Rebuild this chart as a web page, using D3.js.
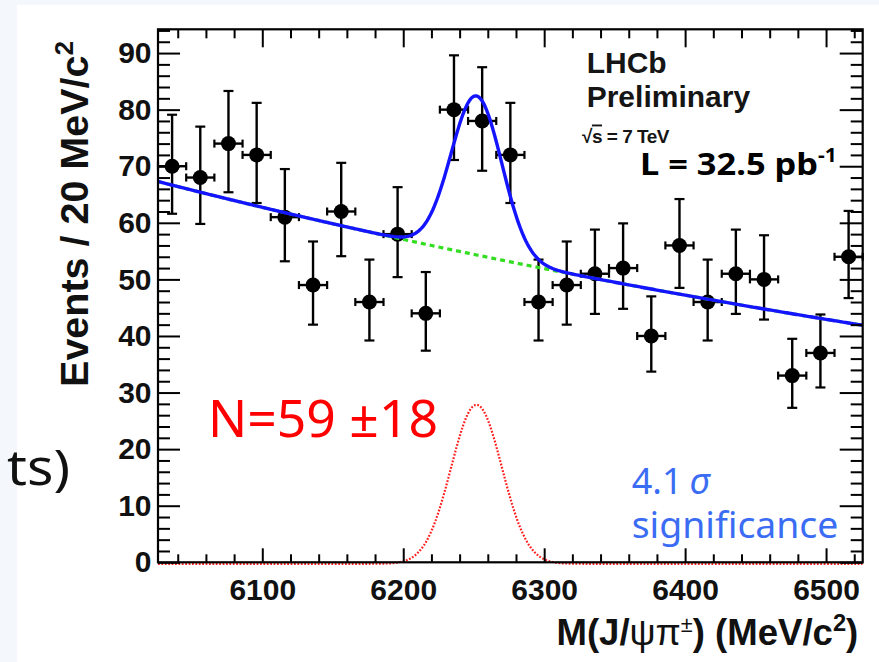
<!DOCTYPE html>
<html>
<head>
<meta charset="utf-8">
<script src="https://cdn.jsdelivr.net/npm/d3@7"></script>
<style>
html,body{margin:0;padding:0;background:#f4f8fc;}
svg{display:block;}
</style>
</head>
<body>
<svg id="chart" width="879" height="662"></svg>
<script>
// ---------------- data ----------------
const massCenters = [6036, 6056, 6076, 6096, 6116, 6136, 6156, 6176, 6196, 6216, 6236, 6256, 6276,
                     6296, 6316, 6336, 6356, 6376, 6396, 6416, 6436, 6456, 6476, 6496, 6516];
const counts      = [70, 68, 74, 72, 61, 49, 62, 46, 58, 44, 80, 78, 72,
                     46, 49, 51, 52, 40, 56, 46, 51, 50, 33, 37, 54];
const errLo       = [8.4, 8.2, 8.6, 8.5, 7.8, 7.0, 7.9, 6.8, 7.6, 6.6, 8.9, 8.8, 8.5,
                     6.8, 7.0, 7.1, 7.2, 6.3, 7.5, 6.8, 7.1, 7.1, 5.7, 6.1, 7.3];
const errHi       = [9.1, 9.0, 9.3, 9.2, 8.5, 7.7, 8.6, 7.5, 8.3, 7.3, 9.6, 9.5, 9.2,
                     7.5, 7.7, 7.8, 7.9, 7.0, 8.2, 7.5, 7.8, 7.8, 6.5, 6.8, 8.1];
const binHalfWidth = 10;

const xTickLabels = [6100, 6200, 6300, 6400, 6500];
const yTickLabels = [0, 10, 20, 30, 40, 50, 60, 70, 80, 90];
const xMinorTicks = [6040, 6060, 6080, 6120, 6140, 6160, 6180, 6220, 6240, 6260, 6280,
                     6320, 6340, 6360, 6380, 6420, 6440, 6460, 6480, 6520];
const yMinorTicks = [2, 4, 6, 8, 12, 14, 16, 18, 22, 24, 26, 28, 32, 34, 36, 38, 42, 44, 46, 48,
                     52, 54, 56, 58, 62, 64, 66, 68, 72, 74, 76, 78, 82, 84, 86, 88, 92, 94];

// fit model parameters
const fitRange    = [6026, 6526];
const bkgNorm     = 67.3;      // background at 6026 MeV
const bkgSlope    = 0.000948;  // exponential slope per MeV
const sigAmp      = 28.1;
const sigMean     = 6252;
const sigSigma    = 18;

// ---------------- layout ----------------
const svg = d3.select("#chart");
const L = 158, R = 862.7, T = 29.3, B = 562.3;
const x = d3.scaleLinear().domain([6026, 6526]).range([L, R]);
const y = d3.scaleLinear().domain([0, 94.2]).range([B, T]);
const ROOTFONT = "'Liberation Sans', Arial, Helvetica, sans-serif";

// white picture area
svg.append("rect").attr("x", 17).attr("y", 5).attr("width", 862).attr("height", 657).attr("fill", "#ffffff");

function fitWidth(sel, target) {
  const w = sel.node().getBBox().width;
  return target / w;
}

// slide text fragment
const ts = svg.append("text")
  .attr("font-family", "'Noto Sans', sans-serif").attr("font-size", 50).attr("fill", "#111")
  .text("ts)");
ts.attr("transform", `translate(7,485) scale(${fitWidth(ts, 63)},1)`);

// ---------------- data points ----------------
const pts = svg.append("g");
const data = massCenters.map((m, i) => ({m, n: counts[i], lo: errLo[i], hi: errHi[i]}));
pts.selectAll("line.v").data(data).join("line")
  .attr("x1", d => x(d.m)).attr("x2", d => x(d.m))
  .attr("y1", d => y(d.n + d.hi)).attr("y2", d => y(d.n - d.lo))
  .attr("stroke", "#000").attr("stroke-width", 2.4);
pts.selectAll("line.h").data(data).join("line")
  .attr("x1", d => x(d.m - binHalfWidth)).attr("x2", d => x(d.m + binHalfWidth))
  .attr("y1", d => y(d.n)).attr("y2", d => y(d.n))
  .attr("stroke", "#000").attr("stroke-width", 2.4);
// caps
pts.selectAll("line.ct").data(data).join("line")
  .attr("x1", d => x(d.m) - 5).attr("x2", d => x(d.m) + 5)
  .attr("y1", d => y(d.n + d.hi)).attr("y2", d => y(d.n + d.hi))
  .attr("stroke", "#000").attr("stroke-width", 2.2);
pts.selectAll("line.cb").data(data).join("line")
  .attr("x1", d => x(d.m) - 5).attr("x2", d => x(d.m) + 5)
  .attr("y1", d => y(d.n - d.lo)).attr("y2", d => y(d.n - d.lo))
  .attr("stroke", "#000").attr("stroke-width", 2.2);
pts.selectAll("line.cl").data(data).join("line")
  .attr("x1", d => x(d.m - binHalfWidth)).attr("x2", d => x(d.m - binHalfWidth))
  .attr("y1", d => y(d.n) - 4).attr("y2", d => y(d.n) + 4)
  .attr("stroke", "#000").attr("stroke-width", 2.2);
pts.selectAll("line.cr").data(data).join("line")
  .attr("x1", d => x(d.m + binHalfWidth)).attr("x2", d => x(d.m + binHalfWidth))
  .attr("y1", d => y(d.n) - 4).attr("y2", d => y(d.n) + 4)
  .attr("stroke", "#000").attr("stroke-width", 2.2);
pts.selectAll("circle").data(data).join("circle")
  .attr("cx", d => x(d.m)).attr("cy", d => y(d.n)).attr("r", 7.5).attr("fill", "#000");

// ---------------- fit curves ----------------
svg.append("clipPath").attr("id", "frameclip").append("rect")
  .attr("x", L).attr("y", T).attr("width", R - L).attr("height", B - T + 3);
const bkg = m => bkgNorm * Math.exp(-bkgSlope * (m - fitRange[0]));
const sig = m => sigAmp * Math.exp(-0.5 * Math.pow((m - sigMean) / sigSigma, 2));
const grid = d3.range(fitRange[0], fitRange[1] + 0.01, 1);
const curves = svg.append("g").attr("clip-path", "url(#frameclip)");
const lineGen = f => d3.line().x(m => x(m)).y(m => y(f(m)))(grid);

curves.append("path").attr("d", lineGen(sig)).attr("fill", "none")
  .attr("stroke", "#ff2020").attr("stroke-width", 2.2).attr("stroke-dasharray", "1.8,1.6")
  .attr("transform", "translate(0,1.5)");
curves.append("path").attr("d", lineGen(bkg)).attr("fill", "none")
  .attr("stroke", "#33dd22").attr("stroke-width", 3.2).attr("stroke-dasharray", "5,4");
curves.append("path").attr("d", lineGen(m => bkg(m) + sig(m))).attr("fill", "none")
  .attr("stroke", "#1414ff").attr("stroke-width", 3.4);

// ---------------- axes ----------------
function styleAxis(g) {
  g.select(".domain").remove();
  g.selectAll(".tick line").attr("stroke", "#000").attr("stroke-width", 2);
}
svg.append("g").attr("transform", `translate(0,${B})`)
  .call(d3.axisBottom(x).tickValues(xTickLabels).tickSize(-14).tickPadding(16.4).tickFormat(d3.format("d")))
  .call(styleAxis)
  .call(g => g.selectAll("text").attr("font-family", ROOTFONT).attr("font-weight", "bold")
    .attr("font-size", 30).attr("fill", "#111"));
svg.append("g").attr("transform", `translate(0,${B})`)
  .call(d3.axisBottom(x).tickValues(xMinorTicks).tickSize(-8).tickFormat(""))
  .call(styleAxis);
svg.append("g").attr("transform", `translate(0,${T})`)
  .call(d3.axisTop(x).tickValues(xTickLabels).tickSize(-18).tickFormat(""))
  .call(styleAxis);
svg.append("g").attr("transform", `translate(0,${T})`)
  .call(d3.axisTop(x).tickValues(xMinorTicks).tickSize(-9).tickFormat(""))
  .call(styleAxis);
svg.append("g").attr("transform", `translate(${L},0)`)
  .call(d3.axisLeft(y).tickValues(yTickLabels).tickSize(-22).tickPadding(6.5))
  .call(styleAxis)
  .call(g => g.selectAll("text").attr("font-family", ROOTFONT).attr("font-weight", "bold")
    .attr("font-size", 30).attr("fill", "#111"));
svg.append("g").attr("transform", `translate(${L},0)`)
  .call(d3.axisLeft(y).tickValues(yMinorTicks).tickSize(-12).tickFormat(""))
  .call(styleAxis);
svg.append("g").attr("transform", `translate(${R},0)`)
  .call(d3.axisRight(y).tickValues(yTickLabels).tickSize(-23).tickFormat(""))
  .call(styleAxis);
svg.append("g").attr("transform", `translate(${R},0)`)
  .call(d3.axisRight(y).tickValues(yMinorTicks).tickSize(-12).tickFormat(""))
  .call(styleAxis);
svg.append("rect").attr("x", L).attr("y", T).attr("width", R - L).attr("height", B - T)
  .attr("fill", "none").attr("stroke", "#000").attr("stroke-width", 2.2);

// ---------------- axis titles ----------------
const yl = svg.append("text").attr("font-family", ROOTFONT).attr("font-weight", "bold")
  .attr("font-size", 38).attr("fill", "#111").attr("text-anchor", "middle");
yl.append("tspan").text("Events / 20 MeV/c");
yl.append("tspan").attr("font-size", 25).attr("dy", -15).text("2");
yl.attr("transform", `translate(88,214) rotate(-90) scale(${fitWidth(yl, 346)},1)`);

const xl = svg.append("text").attr("font-family", ROOTFONT).attr("font-weight", "bold")
  .attr("font-size", 37).attr("fill", "#111").attr("text-anchor", "end");
xl.append("tspan").text("M(J/");
xl.append("tspan").attr("font-weight", "normal").text("ψπ");
xl.append("tspan").attr("font-weight", "normal").attr("font-size", 22).attr("dy", -13).text("±");
xl.append("tspan").attr("dy", 13).text(") (MeV/c");
xl.append("tspan").attr("font-size", 24).attr("dy", -14).text("2");
xl.append("tspan").attr("dy", 14).text(")");
xl.attr("transform", `translate(858.3,645) scale(${fitWidth(xl, 302)},1)`);

// ---------------- annotations ----------------
svg.append("text").attr("x", 586.7).attr("y", 73.3).attr("font-family", ROOTFONT)
  .attr("font-weight", "bold").attr("font-size", 30).attr("fill", "#151515").text("LHCb");
svg.append("text").attr("x", 586.7).attr("y", 106.7).attr("font-family", ROOTFONT)
  .attr("font-weight", "bold").attr("font-size", 30).attr("fill", "#151515").text("Preliminary");
const sq = svg.append("text").attr("x", 582).attr("y", 142.5).attr("font-family", ROOTFONT)
  .attr("font-weight", "bold").attr("font-size", 19).attr("fill", "#151515")
  .attr("letter-spacing", -0.5);
sq.append("tspan").text("√");
sq.append("tspan").attr("text-decoration", "overline").text("s");
sq.append("tspan").text(" = 7 TeV");

const lum = svg.append("text").attr("font-family", "'Noto Sans', sans-serif").attr("font-weight", "bold")
  .attr("font-size", 31).attr("fill", "#000");
lum.append("tspan").text("L = 32.5 pb");
lum.append("tspan").attr("font-size", 19).attr("dy", -13).text("-1");
lum.attr("transform", `translate(640,175) scale(${fitWidth(lum, 197)},1)`);

const nsig = svg.append("text").attr("font-family", "'Noto Sans', sans-serif")
  .attr("font-size", 51).attr("fill", "#ff0000").text("N=59 ±18");
nsig.attr("transform", `translate(208,436.7) scale(${fitWidth(nsig, 230)},1)`);

// significance note
const note1 = svg.append("text").attr("x", 631.7).attr("y", 494)
  .attr("font-family", "'Noto Sans', sans-serif").attr("font-size", 36).attr("fill", "#3b6cf4");
note1.append("tspan").text("4.1");
note1.append("tspan").attr("dx", 7).attr("font-style", "italic").text("σ");
const note2 = svg.append("text").attr("font-family", "'Noto Sans', sans-serif")
  .attr("font-size", 36).attr("fill", "#3b6cf4").text("significance");
note2.attr("transform", `translate(631.7,537.5) scale(${fitWidth(note2, 206.7)},1)`);
</script>
</body>
</html>
